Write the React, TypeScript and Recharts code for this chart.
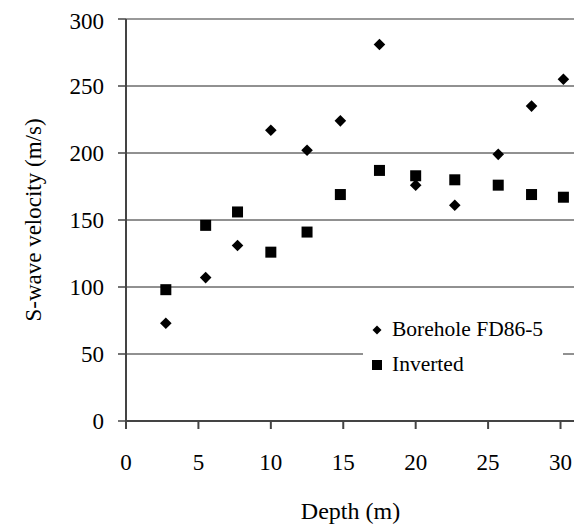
import React from "react";
import {
  ScatterChart,
  Scatter,
  XAxis,
  YAxis,
  CartesianGrid,
  ReferenceLine,
  Legend,
} from "recharts";

// depth (m) of each measurement
const depths = [2.75, 5.5, 7.7, 10, 12.5, 14.8, 17.5, 20, 22.7, 25.7, 28, 30.2];
// S-wave velocity (m/s)
const borehole = [73, 107, 131, 217, 202, 224, 281, 176, 161, 199, 235, 255];
const inverted = [98, 146, 156, 126, 141, 169, 187, 183, 180, 176, 169, 167];

const xTicks = [0, 5, 10, 15, 20, 25, 30];
const yTicks = [0, 50, 100, 150, 200, 250, 300];

const boreholeData = depths.map((d, i) => ({ depth: d, vs: borehole[i] }));
const invertedData = depths.map((d, i) => ({ depth: d, vs: inverted[i] }));

const FONT = '"Liberation Serif", "Times New Roman", serif';

const Diamond = (props: any) => {
  const { cx, cy } = props;
  const r = 5.8;
  return (
    <polygon
      points={`${cx},${cy - r} ${cx + r},${cy} ${cx},${cy + r} ${cx - r},${cy}`}
      fill="#000"
    />
  );
};

const Square = (props: any) => {
  const { cx, cy } = props;
  const s = 11;
  return <rect x={cx - s / 2} y={cy - s / 2} width={s} height={s} fill="#000" />;
};

const LegendBox = (props: any) => {
  const { payload } = props;
  return (
    <div
      style={{
        background: "#fff",
        padding: "6px 0 14px 8px",
        fontFamily: FONT,
        fontSize: 21.5,
        color: "#000",
        textAlign: "left",
      }}
    >
      {(payload || []).map((entry: any, i: number) => (
        <div
          key={i}
          style={{ display: "flex", alignItems: "center", height: 35 }}
        >
          <svg width={16} height={14} style={{ marginRight: 5 }}>
            {entry.value === "Inverted" ? (
              <rect x={1} y={2} width={10} height={10} fill="#000" />
            ) : (
              <polygon points="6,2.5 10.5,7 6,11.5 1.5,7" fill="#000" />
            )}
          </svg>
          <span style={{ fontFamily: FONT }}>{entry.value}</span>
        </div>
      ))}
    </div>
  );
};

export default function App() {
  return (
    <div style={{ width: 574, height: 520, fontFamily: FONT }}>
      <ScatterChart
        width={574}
        height={520}
        margin={{ top: 11, right: 7, left: 0, bottom: 0 }}
      >
        <CartesianGrid vertical={false} stroke="#222" strokeWidth={1} />
        <XAxis
          type="number"
          dataKey="depth"
          domain={[0, 31]}
          ticks={xTicks}
          height={107}
          tickSize={8}
          tickMargin={25}
          axisLine={{ stroke: "#444", strokeWidth: 2 }}
          tickLine={{ stroke: "#444", strokeWidth: 2 }}
          tick={{ fill: "#000", fontSize: 23, fontFamily: FONT }}
          label={{
            content: ({ viewBox }: any) => (
              <text
                x={viewBox.x + viewBox.width / 2}
                y={viewBox.y + 98}
                textAnchor="middle"
                fontSize={24}
                fontFamily={FONT}
                fill="#000"
              >
                Depth (m)
              </text>
            ),
          }}
        />
        <YAxis
          type="number"
          dataKey="vs"
          domain={[0, 300]}
          ticks={yTicks}
          width={118}
          tickSize={8}
          tickMargin={14}
          axisLine={{ stroke: "#444", strokeWidth: 2 }}
          tickLine={{ stroke: "#444", strokeWidth: 1.5 }}
          tick={{ fill: "#000", fontSize: 23, fontFamily: FONT }}
          label={{
            content: ({ viewBox }: any) => {
              const x = viewBox.x + 25;
              const y = viewBox.y + viewBox.height / 2;
              return (
                <text
                  x={x}
                  y={y}
                  transform={`rotate(-90 ${x} ${y})`}
                  textAnchor="middle"
                  dominantBaseline="central"
                  fontSize={23}
                  fontFamily={FONT}
                  fill="#000"
                >
                  S-wave velocity (m/s)
                </text>
              );
            },
          }}
        />
        <ReferenceLine y={300} stroke="#999" strokeWidth={2} />
        <ReferenceLine x={31} stroke="#999" strokeWidth={2} />
        <Legend
          layout="horizontal"
          verticalAlign="middle"
          align="center"
          content={<LegendBox />}
          wrapperStyle={{ left: 355, top: 298, width: 200, bottom: "auto" }}
        />
        <Scatter
          name="Borehole FD86-5"
          data={boreholeData}
          fill="#000"
          shape={Diamond}
          isAnimationActive={false}
        />
        <Scatter
          name="Inverted"
          data={invertedData}
          fill="#000"
          shape={Square}
          isAnimationActive={false}
        />
      </ScatterChart>
    </div>
  );
}
